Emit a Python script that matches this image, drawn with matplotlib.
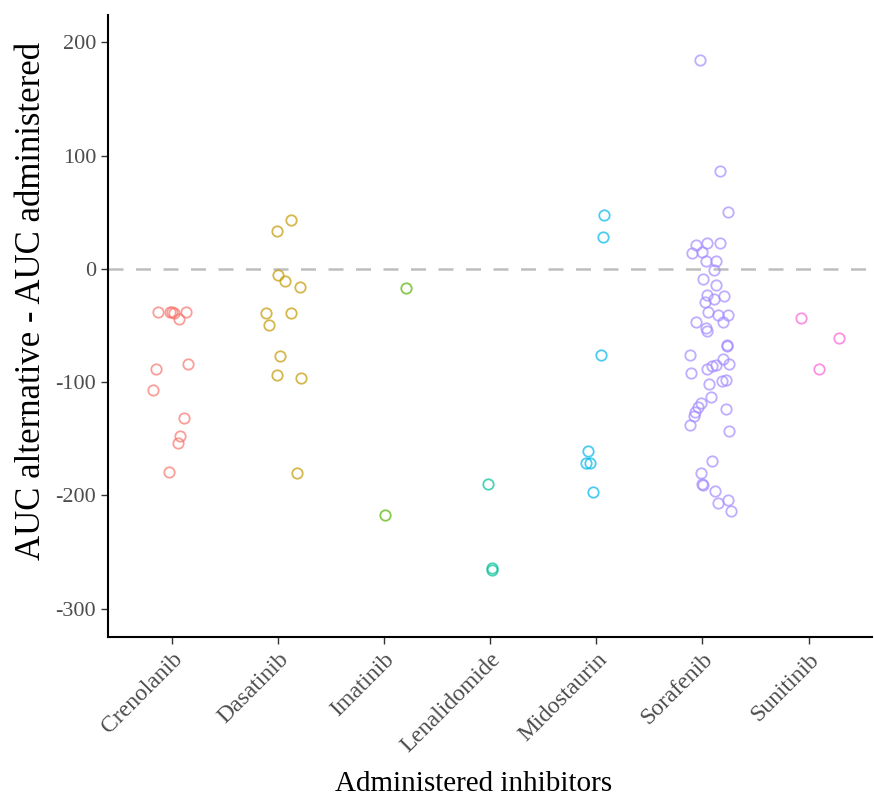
import matplotlib.pyplot as plt

# Inhibitors and their colours (ggplot hue palette)
inhibitors = ['Crenolanib', 'Dasatinib', 'Imatinib', 'Lenalidomide',
              'Midostaurin', 'Sorafenib', 'Sunitinib']
colors = ['#F8766D', '#C49A00', '#53B400', '#00C094',
          '#00B6EB', '#A58AFF', '#FB61D7']

# AUC difference values per inhibitor, with the jitter
crenolanib = [-38, -38, -39, -44, -38, -38, -88, -84, -107, -132, -148, -154, -179]
crenolanib_jit = [-0.13, 0.0, 0.02, 0.07, 0.13, -0.02, -0.15, 0.15, -0.18, 0.12, 0.08, 0.06, -0.03]

dasatinib = [43, 33, -5, -11, -16, -39, -39, -50, -77, -94, -96, -180]
dasatinib_jit = [0.12, -0.01, 0.0, 0.07, 0.21, -0.11, 0.12, -0.08, 0.02, -0.01, 0.22, 0.18]

imatinib = [-17, -217]
imatinib_jit = [0.21, 0.01]

lenalidomide = [-190, -264, -266]
lenalidomide_jit = [-0.02, 0.02, 0.02]

midostaurin = [48, 28, -76, -161, -171, -171, -197]
midostaurin_jit = [0.07, 0.06, 0.04, -0.08, -0.1, -0.06, -0.03]

sorafenib = [184, 86, 50, 21, 23, 23, 14, 15, 7, 7, -1, -9,
             -14, -23, -29, -27, -24, -38, -41, -41, -47, -47, -52, -55,
             -67, -68, -76, -80, -84, -88, -86, -85, -92, -98, -99, -102,
             -113, -118, -122, -126, -130, -124, -138, -143, -170, -180,
             -190, -191, -196, -204, -207, -214]
sorafenib_jit = [-0.02, 0.17, 0.24, -0.06, 0.04, 0.17, -0.1, 0.0, 0.03, 0.13, 0.11, 0.01,
                 0.13, 0.04, 0.02, 0.11, 0.2, 0.05, 0.15, 0.24, 0.19, -0.06, 0.03, 0.04,
                 0.23, 0.23, -0.12, 0.19, 0.25, 0.04, 0.09, 0.13, -0.11, 0.22, 0.18, 0.06,
                 0.08, -0.01, -0.04, -0.07, -0.08, 0.22, -0.12, 0.25, 0.09, -0.01,
                 0.0, 0.01, 0.12, 0.24, 0.15, 0.27]

sunitinib = [-43, -61, -88]
sunitinib_jit = [-0.07, 0.29, 0.10]

values = [crenolanib, dasatinib, imatinib, lenalidomide, midostaurin, sorafenib, sunitinib]
jitters = [crenolanib_jit, dasatinib_jit, imatinib_jit, lenalidomide_jit,
           midostaurin_jit, sorafenib_jit, sunitinib_jit]

plt.rcParams['font.family'] = ['Liberation Serif', 'DejaVu Serif']
plt.rcParams['axes.unicode_minus'] = False

fig = plt.figure(figsize=(8.74, 7.98), dpi=100)
ax = fig.add_axes([0.1236, 0.2018, 0.8744, 0.7792])

# Open circles, one group per inhibitor
for i, (vals, jit) in enumerate(zip(values, jitters)):
    xs = [i + j for j in jit]
    ax.plot(xs, vals, linestyle='none', marker='o', markersize=7.5,
            markerfacecolor='none', markeredgecolor=colors[i],
            markeredgewidth=1.3, alpha=0.7)

# Reference line at zero
ax.axhline(0, color='#BEBEBE', linestyle=(0, (6, 5)), linewidth=1.8, zorder=0)

ax.set_xlim(-0.6, 6.6)
ax.set_ylim(-325, 224)
ax.set_xticks(range(len(inhibitors)))
ax.set_xticklabels(inhibitors, rotation=45, ha='right', rotation_mode='anchor',
                   fontsize=17, color='#4D4D4D')
ax.set_yticks([-300, -200, -100, 0, 100, 200])
ax.set_yticklabels(['-300', '-200', '-100', '0', '100', '200'],
                   fontsize=16, color='#4D4D4D')
ax.tick_params(length=5, width=1, color='#333333')

ax.spines['top'].set_visible(False)
ax.spines['right'].set_visible(False)
ax.spines['left'].set_linewidth(1.5)
ax.spines['bottom'].set_linewidth(1.5)

ax.set_xlabel('Administered inhibitors', fontsize=21)
ax.xaxis.set_label_coords(0.478, -0.215)
ax.set_ylabel('AUC alternative - AUC administered', fontsize=25)
ax.yaxis.set_label_coords(-0.078, 0.54)

plt.savefig('out.png', dpi=100)
